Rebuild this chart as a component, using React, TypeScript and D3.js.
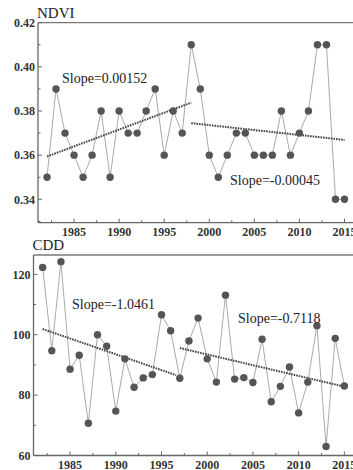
import React from 'react';
import * as d3 from 'd3';

const years = d3.range(1982, 2016);

const ndvi = [0.35, 0.39, 0.37, 0.36, 0.35, 0.36, 0.38, 0.35, 0.38, 0.37, 0.37, 0.38, 0.39, 0.36, 0.38, 0.37,
  0.41, 0.39, 0.36, 0.35, 0.36, 0.37, 0.37, 0.36, 0.36, 0.36, 0.38, 0.36, 0.37, 0.38, 0.41, 0.41, 0.34, 0.34];

const cdd = [122.3, 94.7, 124.2, 88.6, 93.2, 70.7, 100.0, 96.2, 74.7, 92.0, 82.6, 85.7, 86.8, 106.6, 101.3, 85.6,
  97.9, 105.5, 92.0, 84.3, 113.1, 85.3, 85.8, 84.2, 98.5, 77.8, 82.9, 89.3, 74.1, 84.3, 103.0, 63.0, 98.8, 83.0];

// trend segments: [year0, year1, value0, value1]
const ndviTrends = [
  [1982, 1998, 0.3594, 0.3838],
  [1998, 2015, 0.3745, 0.3669],
];
const cddTrends = [
  [1982, 1996.6, 101.9, 86.6],
  [1997, 2015, 95.6, 82.8],
];

const ndviLabels = ['Slope=0.00152', 'Slope=-0.00045'];
const cddLabels = ['Slope=-1.0461', 'Slope=-0.7118'];

const ndviTicks = [0.34, 0.36, 0.38, 0.40, 0.42];
const cddTicks = [60, 80, 100, 120];
const yearTicks = [1985, 1990, 1995, 2000, 2005, 2010, 2015];

const serif = '"Liberation Serif", "DejaVu Serif", serif';

type PanelProps = {
  title: string;
  values: number[];
  trends: number[][];
  labels: string[];
  labelPos: number[][];
  yDomain: number[];
  yTicks: number[];
  yMinor: number[];
  yFmt: (v: number) => string;
  left: number;
  top: number;
  bottom: number;
};

const Panel = (p: PanelProps) => {
  const x = d3.scaleLinear().domain([1981, 2016]).range([p.left, 353.5]);
  const y = d3.scaleLinear().domain(p.yDomain).range([p.bottom, p.top]);
  const line = d3.line<number>().x((d, i) => x(years[i])).y((d) => y(d));
  const minorX = d3.range(1982.5, 2016, 5);
  const axis = '#666';
  return (
    <g>
      <text x={p.left - 1} y={p.top - 5} fontFamily={serif} fontSize={15} fill="#222">{p.title}</text>
      <line x1={p.left} x2={353} y1={p.top} y2={p.top} stroke="#777" strokeWidth={1.3} />
      <line x1={p.left} x2={p.left} y1={p.top} y2={p.bottom} stroke={axis} strokeWidth={1.3} />
      <line x1={p.left} x2={353} y1={p.bottom} y2={p.bottom} stroke={axis} strokeWidth={1.3} />
      {p.yTicks.map((t) => (
        <g key={t}>
          <line x1={p.left} x2={p.left + 4} y1={y(t)} y2={y(t)} stroke={axis} />
          <text x={p.left - 3} y={y(t)} dy="0.35em" textAnchor="end" fontFamily={serif}
            fontWeight="bold" fontSize={12} fill="#333">{p.yFmt(t)}</text>
        </g>
      ))}
      {p.yMinor.map((t) => (
        <line key={t} x1={p.left} x2={p.left + 2.5} y1={y(t)} y2={y(t)} stroke={axis} />
      ))}
      {yearTicks.map((t) => (
        <g key={t}>
          <line x1={x(t)} x2={x(t)} y1={p.bottom} y2={p.bottom - 4} stroke={axis} />
          <text x={x(t)} y={p.bottom + 13} textAnchor="middle" fontFamily={serif}
            fontWeight="bold" fontSize={12} fill="#333">{t}</text>
        </g>
      ))}
      {minorX.map((t) => (
        <line key={t} x1={x(t)} x2={x(t)} y1={p.bottom} y2={p.bottom - 2.5} stroke={axis} />
      ))}
      <path d={line(p.values) || ''} fill="none" stroke="#aaa" strokeWidth={1} />
      {p.trends.map((t, i) => (
        <line key={i} x1={x(t[0])} x2={x(t[1])} y1={y(t[2])} y2={y(t[3])}
          stroke="#444" strokeWidth={2} strokeDasharray="1.6,1" />
      ))}
      {p.values.map((v, i) => (
        <circle key={i} cx={x(years[i])} cy={y(v)} r={3.7} fill="#555" />
      ))}
      {p.labels.map((s, i) => (
        <text key={s} x={p.labelPos[i][0]} y={p.labelPos[i][1]} dy="0.35em" fontFamily={serif}
          fontSize={14} fill="#222">{s}</text>
      ))}
    </g>
  );
};

export default function App() {
  return (
    <svg width={353} height={470} style={{ position: 'absolute', left: 0, top: 0, background: '#fff' }}>
      <Panel title="NDVI" values={ndvi} trends={ndviTrends} labels={ndviLabels}
        labelPos={[[62, 78], [230, 180]]} yDomain={[0.3294, 0.42]} yTicks={ndviTicks}
        yMinor={[0.33, 0.35, 0.37, 0.39, 0.41]} yFmt={d3.format('.2f')}
        left={38} top={22.7} bottom={222.7} />
      <Panel title="CDD" values={cdd} trends={cddTrends} labels={cddLabels}
        labelPos={[[72, 304], [238, 318]]} yDomain={[60, 126.4]} yTicks={cddTicks}
        yMinor={[70, 90, 110]} yFmt={d3.format('d')}
        left={33.5} top={255} bottom={455.5} />
    </svg>
  );
}
